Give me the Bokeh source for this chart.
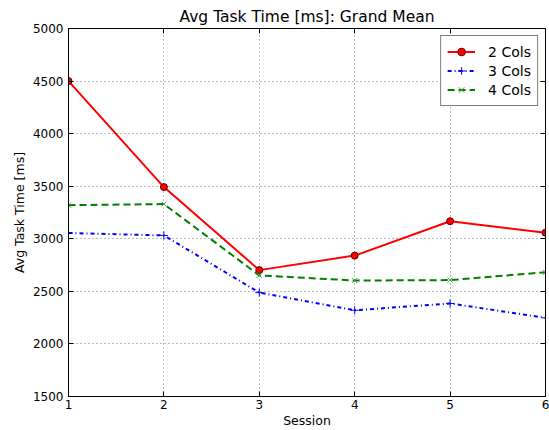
from bokeh.plotting import figure
from bokeh.models import Range1d, FixedTicker, LinearAxis, Legend, LegendItem
from bokeh.embed import file_html
from bokeh.resources import INLINE

sessions = [1, 2, 3, 4, 5, 6]
cols2 = [4500, 3492, 2702, 2840, 3167, 3058]
cols3 = [3055, 3032, 2488, 2320, 2385, 2248]
cols4 = [3320, 3330, 2652, 2603, 2607, 2682]
xticks = [1, 2, 3, 4, 5, 6]
yticks = [1500, 2000, 2500, 3000, 3500, 4000, 4500, 5000]

FONT = "DejaVu Sans"

p = figure(width=549, height=430, output_backend="svg", toolbar_location=None,
           x_range=Range1d(1, 6), y_range=Range1d(1500, 5000),
           min_border_left=68, min_border_right=4, min_border_top=28, min_border_bottom=32,
           title="Avg Task Time [ms]: Grand Mean")
p.title.align = "center"
p.title.text_font = FONT
p.title.text_font_size = "15.5px"
p.title.text_font_style = "normal"
p.title.text_color = "black"
p.title.offset = 0
p.title.standoff = 5

p.outline_line_color = "black"
p.outline_line_width = 1
p.background_fill_color = "white"
p.border_fill_color = "white"

for ax in (p.xaxis[0], p.yaxis[0]):
    ax.major_label_text_font = FONT
    ax.major_label_text_font_size = "12px"
    ax.major_label_text_color = "black"
    ax.axis_label_text_font = FONT
    ax.axis_label_text_font_size = "12.5px"
    ax.axis_label_text_font_style = "normal"
    ax.axis_label_text_color = "black"
    ax.major_tick_in = 5
    ax.major_tick_out = 0
    ax.minor_tick_line_color = None
    ax.axis_line_color = "black"

p.xaxis.ticker = FixedTicker(ticks=xticks)
p.yaxis.ticker = FixedTicker(ticks=yticks)
p.xaxis.axis_label = "Session"
p.yaxis.axis_label = "Avg Task Time [ms]"
p.xaxis.major_label_standoff = 3
p.yaxis.major_label_standoff = 5
p.xaxis.axis_label_standoff = 1
p.yaxis.axis_label_standoff = 3

# mirrored ticks
top = LinearAxis(ticker=FixedTicker(ticks=xticks), major_label_text_font_size="0px",
                 major_tick_in=5, major_tick_out=0, minor_tick_line_color=None,
                 major_label_text_color=None)
right = LinearAxis(ticker=FixedTicker(ticks=yticks), major_label_text_font_size="0px",
                   major_tick_in=5, major_tick_out=0, minor_tick_line_color=None,
                   major_label_text_color=None)
p.add_layout(top, "above")
p.add_layout(right, "right")

p.grid.grid_line_color = "#777777"
p.grid.grid_line_dash = "1 3"
p.grid.grid_line_width = 1

r2l = p.line(sessions, cols2, line_color="red", line_width=2)
r2m = p.scatter(sessions, cols2, marker="circle", size=7, fill_color="red", line_color="#600000")
r3l = p.line(sessions, cols3, line_color="blue", line_width=2, line_dash="4 3 1 3")
r3m = p.scatter(sessions, cols3, marker="cross", size=8, line_color="blue", line_width=1)
r4l = p.line(sessions, cols4, line_color="green", line_width=2, line_dash="7 4")
r4m = p.scatter(sessions, cols4, marker="x", size=7, line_color="#40a040", line_width=1)

legend = Legend(items=[LegendItem(label="2 Cols", renderers=[r2l, r2m]),
                       LegendItem(label="3 Cols", renderers=[r3l, r3m]),
                       LegendItem(label="4 Cols", renderers=[r4l, r4m])],
                location="top_right")
legend.label_text_font = FONT
legend.label_text_font_size = "14px"
legend.label_text_color = "black"
legend.border_line_color = "black"
legend.border_line_width = 1
legend.margin = 7
legend.padding = 6
legend.spacing = 0
legend.label_height = 19
legend.glyph_height = 19
legend.glyph_width = 28
legend.label_standoff = 13
legend.background_fill_alpha = 1
p.add_layout(legend)

open("out.html", "w").write(file_html(p, INLINE))
